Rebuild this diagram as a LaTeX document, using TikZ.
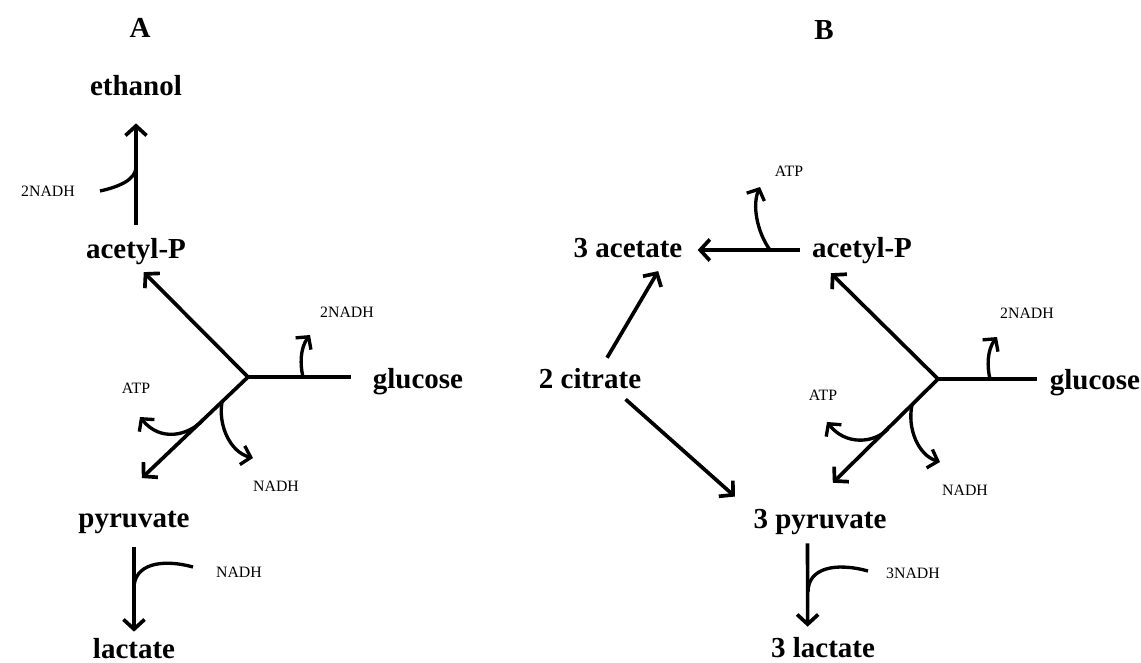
\documentclass[tikz,border=0pt]{standalone}
\usepackage{fontspec}
\setmainfont{Liberation Serif}
\usetikzlibrary{arrows.meta}
\newcommand{\metabfont}{\fontsize{16.5}{18}\selectfont\bfseries}
\newcommand{\cofacfont}{\fontsize{9}{10}\selectfont}
\tikzset{
  metab/.style={font=\metabfont, inner sep=0pt, text height=0.4cm, text depth=0.12cm},
  cofac/.style={font=\cofacfont, inner sep=0pt},
  flux/.style={line width=2.1pt, -{Straight Barb[length=5.5pt,width=12pt]}},
  trunk/.style={line width=2.1pt},
  side/.style={line width=1.9pt, -{Straight Barb[length=5pt,width=11pt]}},
  merge/.style={line width=1.9pt},
}
\begin{document}
\begin{tikzpicture}[x=0.02cm, y=-0.02cm]
            \useasboundingbox (0,0) rectangle (1141,662);

            % panel A
            \node[metab] (labA) at (140,31) {A};
            \node[metab] (ethA) at (136,89) {ethanol};
            \node[metab] (acetA) at (136,251) {acetyl-P};
            \node[metab] (glucA) at (418,381) {glucose};
            \node[metab] (pyrA) at (134,520) {pyruvate};
            \node[metab] (lacA) at (134,651) {lactate};
            \node[cofac] (nadhA1) at (48,191) {2NADH};
            \node[cofac] (nadhA2) at (347,312) {2NADH};
            \node[cofac] (atpA) at (136,388) {ATP};
            \node[cofac] (nadhA3) at (276,486) {NADH};
            \node[cofac] (nadhA4) at (239,572) {NADH};
            \coordinate (brA) at (248,377);

            \draw[flux, shorten <=0.26cm, shorten >=0.42cm] (acetA) -- (ethA); % acetyl-P-ethanol
            \draw[flux, shorten >=0.22cm] (brA) -- (acetA.south); % branch-acetyl-P
            \draw[flux, shorten >=0.83cm] (brA) -- (pyrA.149); % branch-pyruvate
            \draw[trunk, shorten >=0.43cm] (brA) -- (brA -| glucA.west); % glucose-branch
            \draw[flux, shorten <=0.28cm, shorten >=0.12cm] (pyrA) -- (lacA); % pyruvate-lactate

            \coordinate (sA1) at (100,191);
            \coordinate (jA1) at (136,167);
            \draw[merge] (sA1) .. controls (118,187) and (136,180) .. (jA1); % 2NADH in
            \coordinate (sA2) at (303,377);
            \coordinate (tA2) at (310,335);
            \draw[side] (sA2) .. controls (300,365) and (300,348) .. (tA2); % 2NADH out
            \coordinate (sA3) at (203,420);
            \coordinate (tA3) at (140,417);
            \draw[side] (sA3) .. controls (188,436) and (160,442) .. (tA3); % ATP out
            \coordinate (sA4) at (222,402);
            \coordinate (tA4) at (253,458);
            \draw[side] (sA4) .. controls (218,425) and (230,452) .. (tA4); % NADH out
            \coordinate (sA5) at (193,567);
            \coordinate (jA5) at (134,588);
            \draw[merge] (sA5) .. controls (160,558) and (134,565) .. (jA5); % NADH in

            % panel B
            \node[metab] (labB) at (824,33) {B};
            \node[metab] (acetate) at (628,250) {3 acetate};
            \node[metab] (acetB) at (862,250) {acetyl-P};
            \node[metab] (citr) at (590,381) {2 citrate};
            \node[metab] (glucB) at (1095,382) {glucose};
            \node[metab] (pyrB) at (820,521) {3 pyruvate};
            \node[metab] (lacB) at (823,650) {3 lactate};
            \node[cofac] (atpB1) at (789,171) {ATP};
            \node[cofac] (nadhB2) at (1027,313) {2NADH};
            \node[cofac] (atpB2) at (823,395) {ATP};
            \node[cofac] (nadhB3) at (965,490) {NADH};
            \node[cofac] (nadhB4) at (913,573) {3NADH};
            \coordinate (brB) at (938,379);

            \draw[flux, shorten <=0.24cm, shorten >=0.30cm] (acetB) -- (acetate); % acetyl-P-acetate
            \draw[flux, shorten <=0.23cm, shorten >=0.18cm] (citr.50) -- (acetate.-21); % citrate-acetate
            \draw[flux, shorten <=0.15cm, shorten >=0.49cm] (citr.-24) -- (pyrB.173); % citrate-pyruvate
            \draw[flux, shorten >=0.28cm] (brB) -- (acetB.198); % branch-acetyl-P
            \draw[flux, shorten >=0.71cm] (brB) -- (pyrB.133); % branch-pyruvate
            \draw[trunk, shorten >=0.25cm] (brB) -- (brB -| glucB.west); % glucose-branch
            \draw[flux, shorten <=0.18cm, shorten >=0.20cm] (pyrB.227) -- (lacB.139); % pyruvate-lactate

            \coordinate (sB1) at (770,250);
            \coordinate (tB1) at (760,187);
            \draw[side] (sB1) .. controls (757,232) and (752,205) .. (tB1); % ATP out
            \coordinate (sB2) at (990,379);
            \coordinate (tB2) at (997,337);
            \draw[side] (sB2) .. controls (987,367) and (987,350) .. (tB2); % 2NADH out
            \coordinate (sB3) at (888,429);
            \coordinate (tB3) at (827,422);
            \draw[side] (sB3) .. controls (873,444) and (845,445) .. (tB3); % ATP out
            \coordinate (sB4) at (912,405);
            \coordinate (tB4) at (940,462);
            \draw[side] (sB4) .. controls (907,428) and (918,455) .. (tB4); % NADH out
            \coordinate (sB5) at (868,571);
            \coordinate (jB5) at (808,592);
            \draw[merge] (sB5) .. controls (835,562) and (808,568) .. (jB5); % 3NADH in
        \end{tikzpicture}
\end{document}
